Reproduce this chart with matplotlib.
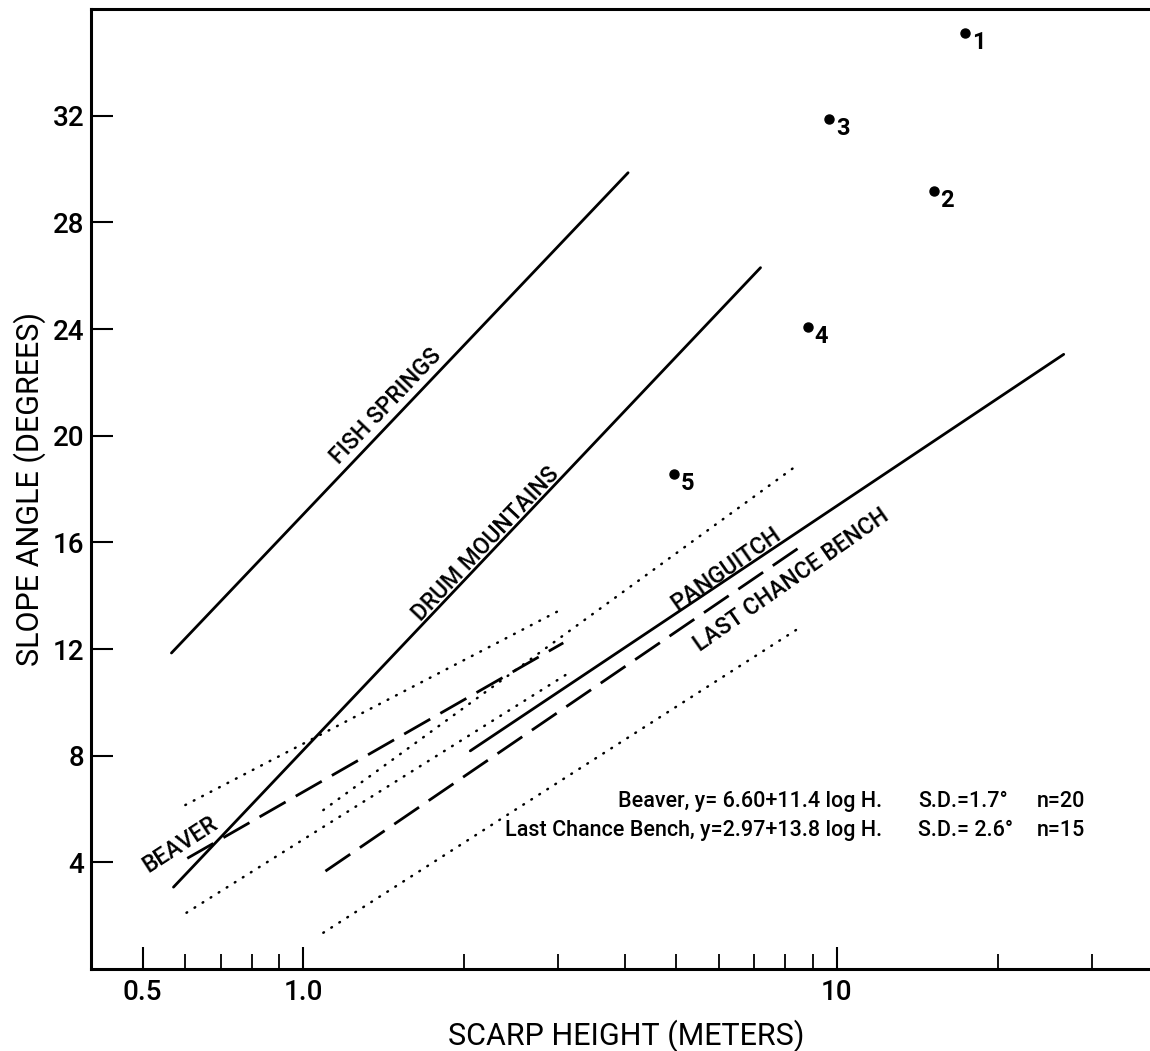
import matplotlib
matplotlib.use('Agg')
import matplotlib.pyplot as plt
from matplotlib.ticker import FixedLocator, FixedFormatter, NullFormatter

plt.rcParams['font.family'] = ['Roboto', 'DejaVu Sans']
plt.rcParams['font.weight'] = 'medium'

# regression lines (scarp height m, slope angle deg)
fish_h = [0.566, 4.06]
fish_angle = [11.85, 29.86]
drum_h = [0.571, 7.19]
drum_angle = [3.07, 26.3]
pang_h = [2.055, 26.6]
pang_angle = [8.18, 23.05]

beaver_h = [0.606, 3.07]
beaver_angle = [4.15, 12.23]
beaver_hi_h = [0.601, 3.07]
beaver_hi = [6.15, 13.52]
beaver_lo_h = [0.604, 3.12]
beaver_lo = [2.11, 11.06]

lcb_h = [1.10, 8.45]
lcb_angle = [3.67, 15.77]
lcb_hi_h = [1.09, 8.50]
lcb_hi = [5.96, 18.95]
lcb_lo_h = [1.09, 8.56]
lcb_lo = [1.36, 12.83]

# numbered scarps
pt_h = [17.4, 15.2, 9.68, 8.81, 4.95]
pt_angle = [35.1, 29.17, 31.88, 24.07, 18.55]
pt_labels = ['1', '2', '3', '4', '5']

x_major = [0.5, 1.0, 10]
x_major_labels = ['0.5', '1.0', '10']
x_minor = [0.6, 0.7, 0.8, 0.9, 2, 3, 4, 5, 6, 7, 8, 9, 20, 30]
y_ticks = [4, 8, 12, 16, 20, 24, 28, 32]

fig = plt.figure(figsize=(11.5, 10.51), dpi=100)
ax = fig.add_axes([91 / 1150, 82 / 1051, 1059 / 1150, 960 / 1051])
ax.set_xscale('log')
ax.set_xlim(0.40, 38.6)
ax.set_ylim(0, 36)

# solid lines
for h, a in [(fish_h, fish_angle), (drum_h, drum_angle), (pang_h, pang_angle)]:
    ax.plot(h, a, color='black', lw=2.0, solid_capstyle='round')

# dashed lines
for h, a in [(beaver_h, beaver_angle), (lcb_h, lcb_angle)]:
    ax.plot(h, a, color='black', lw=2.0, linestyle=(0, (10.8, 4.2)))

# dotted confidence limits
for h, a in [(beaver_hi_h, beaver_hi), (beaver_lo_h, beaver_lo),
             (lcb_hi_h, lcb_hi), (lcb_lo_h, lcb_lo)]:
    ax.plot(h, a, color='black', lw=1.8, linestyle=(0, (0.3, 3.5)),
            dash_capstyle='round')

ax.plot(pt_h, pt_angle, 'o', color='black', markersize=6.5)
for h, a, lab in zip(pt_h, pt_angle, pt_labels):
    ax.annotate(lab, (h, a), xytext=(9.6, -6.8), textcoords='offset points',
                fontsize=17, fontweight='bold', ha='center', va='center')

# line labels
ax.text(1.43, 21.1, 'FISH SPRINGS', rotation=46.4, fontsize=16.5,
        ha='center', va='center')
ax.text(2.20, 15.95, 'DRUM MOUNTAINS', rotation=46.6, fontsize=16.5,
        ha='center', va='center')
ax.text(6.19, 15.02, 'PANGUITCH', rotation=35, fontsize=16.5,
        ha='center', va='center')
ax.text(8.22, 14.6, 'LAST CHANCE BENCH', rotation=35, fontsize=16.5,
        ha='center', va='center')
ax.text(0.588, 4.65, 'BEAVER', rotation=33, fontsize=16.5,
        ha='center', va='center')

# equations
eq_size = 15.5
ax.text(0.747, 0.174, 'Beaver, y= 6.60+11.4 log H.', transform=ax.transAxes,
        fontsize=eq_size, ha='right', va='center')
ax.text(0.781, 0.174, 'S.D.=1.7°', transform=ax.transAxes,
        fontsize=eq_size, ha='left', va='center')
ax.text(0.893, 0.174, 'n=20', transform=ax.transAxes,
        fontsize=eq_size, ha='left', va='center')
ax.text(0.747, 0.144, 'Last Chance Bench, y=2.97+13.8 log H.', transform=ax.transAxes,
        fontsize=eq_size, ha='right', va='center')
ax.text(0.781, 0.144, 'S.D.= 2.6°', transform=ax.transAxes,
        fontsize=eq_size, ha='left', va='center')
ax.text(0.893, 0.144, 'n=15', transform=ax.transAxes,
        fontsize=eq_size, ha='left', va='center')

# axes styling
ax.xaxis.set_major_locator(FixedLocator(x_major))
ax.xaxis.set_major_formatter(FixedFormatter(x_major_labels))
ax.xaxis.set_minor_locator(FixedLocator(x_minor))
ax.xaxis.set_minor_formatter(NullFormatter())
ax.set_yticks(y_ticks)
ax.tick_params(axis='both', which='major', direction='in', length=15.8,
               width=1.5, labelsize=20, color='black')
ax.tick_params(axis='x', which='major', pad=7)
ax.tick_params(axis='y', which='major', pad=5)
ax.tick_params(axis='x', which='minor', direction='in', length=10.5, width=1.3)

for side in ['left', 'bottom', 'top']:
    ax.spines[side].set_linewidth(2.2)
ax.spines['right'].set_visible(False)

ax.set_xlabel('SCARP HEIGHT (METERS)', fontsize=22)
ax.xaxis.set_label_coords(0.505, -0.053)
ax.set_ylabel('SLOPE ANGLE (DEGREES)', fontsize=22)
ax.yaxis.set_label_coords(-0.0425, 0.5)

fig.savefig('out.png', dpi=100)
